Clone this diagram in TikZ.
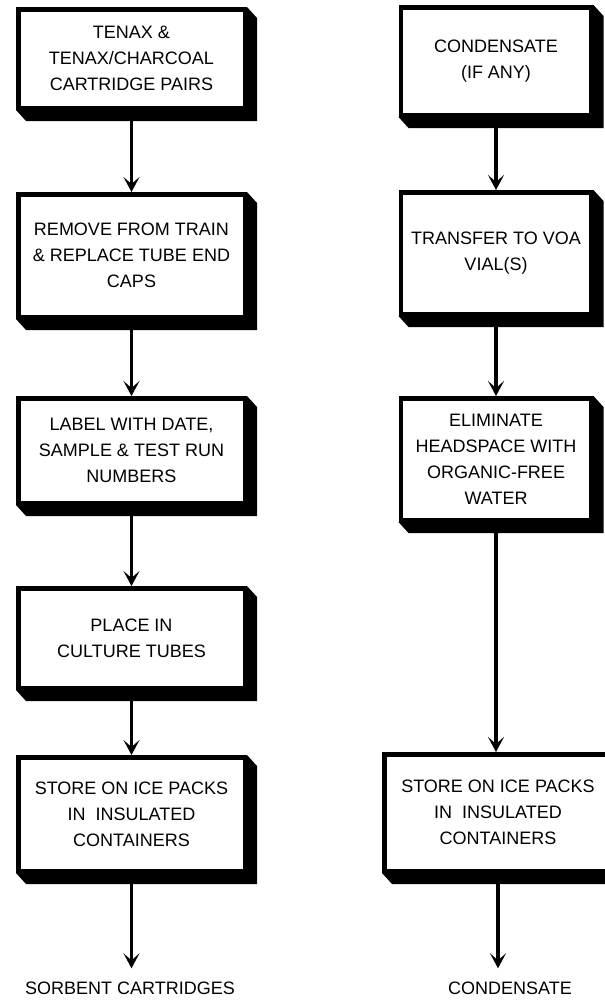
\documentclass[tikz,border=0pt]{standalone}
\usepackage{fontspec}
\setmainfont{Liberation Sans}
\usetikzlibrary{arrows.meta,calc,backgrounds}

\tikzset{
  stepbox/.style={draw, line width=4.5pt, fill=white, align=center, inner sep=0pt,
    font=\fontsize{18}{26}\selectfont},
  leftbox/.style={stepbox, minimum width=226.5pt},
  rightbox/.style={stepbox, minimum width=190.5pt},
  boxshadow/.style={fill=black},
  flow/.style={line width=3.5pt, -{Stealth[length=15pt,width=16pt,inset=7pt]}},
  endlabel/.style={inner sep=0pt, text height=13pt, text depth=0pt,
    font=\fontsize{18}{26}\selectfont},
}

\begin{document}
\begin{tikzpicture}[x=1pt,y=-1pt]
\useasboundingbox (0,0) rectangle (605,1005);

% sorbent cartridge column
\node[leftbox, minimum height=98.5pt]  (l1) at (131.5,58.5) {TENAX \&\\TENAX/CHARCOAL\\CARTRIDGE PAIRS};
\node[leftbox, minimum height=122.5pt] (l2) at (131.5,255.5) {REMOVE FROM TRAIN\\\& REPLACE TUBE END\\CAPS};
\node[leftbox, minimum height=104.5pt] (l3) at (131.5,450.5) {LABEL WITH DATE,\\SAMPLE \& TEST RUN\\NUMBERS};
\node[leftbox, minimum height=99.5pt]  (l4) at (131.5,638) {PLACE IN\\CULTURE TUBES};
\node[leftbox, minimum height=113.5pt] (l5) at (131.5,814) {STORE ON ICE PACKS\\IN\ \ INSULATED\\CONTAINERS};
\node[endlabel] (sorb) at (130,988) {SORBENT CARTRIDGES};

% condensate column
\node[rightbox, minimum height=107.5pt] (r1) at (496,61) {CONDENSATE\\(IF ANY)};
\node[rightbox, minimum height=121.5pt] (r2) at (496,253) {TRANSFER TO VOA\\VIAL(S)};
\node[rightbox, minimum height=121.5pt] (r3) at (496,459) {ELIMINATE\\HEADSPACE WITH\\ORGANIC-FREE\\WATER};
\node[stepbox, minimum width=227.5pt, minimum height=116.5pt] (r4) at (498,812.5) {STORE ON ICE PACKS\\IN\ \ INSULATED\\CONTAINERS};
\node[endlabel] (cond) at (510,988) {CONDENSATE};

% drop shadows behind every box
\begin{scope}[on background layer]
\foreach \b in {l1,l2,l3,l4,l5,r1,r2,r3,r4}
  \fill[boxshadow] (\b.south west) -- ($(\b.south west)+(10,11)$)
    -- ($(\b.south east)+(10,11)$) -- ($(\b.north east)+(10,11)$)
    -- (\b.north east) -- cycle;
\end{scope}

% connectors
\draw[flow] (l1.south) -- (l2.north);
\draw[flow] (l2.south) -- (l3.north);
\draw[flow] (l3.south) -- (l4.north);
\draw[flow] (l4.south) -- (l5.north);
\draw[flow] (l5.south) -- ($(l5.south |- sorb.north)+(0,-13)$);

\draw[flow] (r1.south) -- (r2.north);
\draw[flow] (r2.south) -- (r3.north);
\draw[flow] (r3.south) -- (r3.south |- r4.north);
\draw[flow] (r4.south) -- ($(r4.south |- cond.north)+(0,-13)$);
\end{tikzpicture}
\end{document}
